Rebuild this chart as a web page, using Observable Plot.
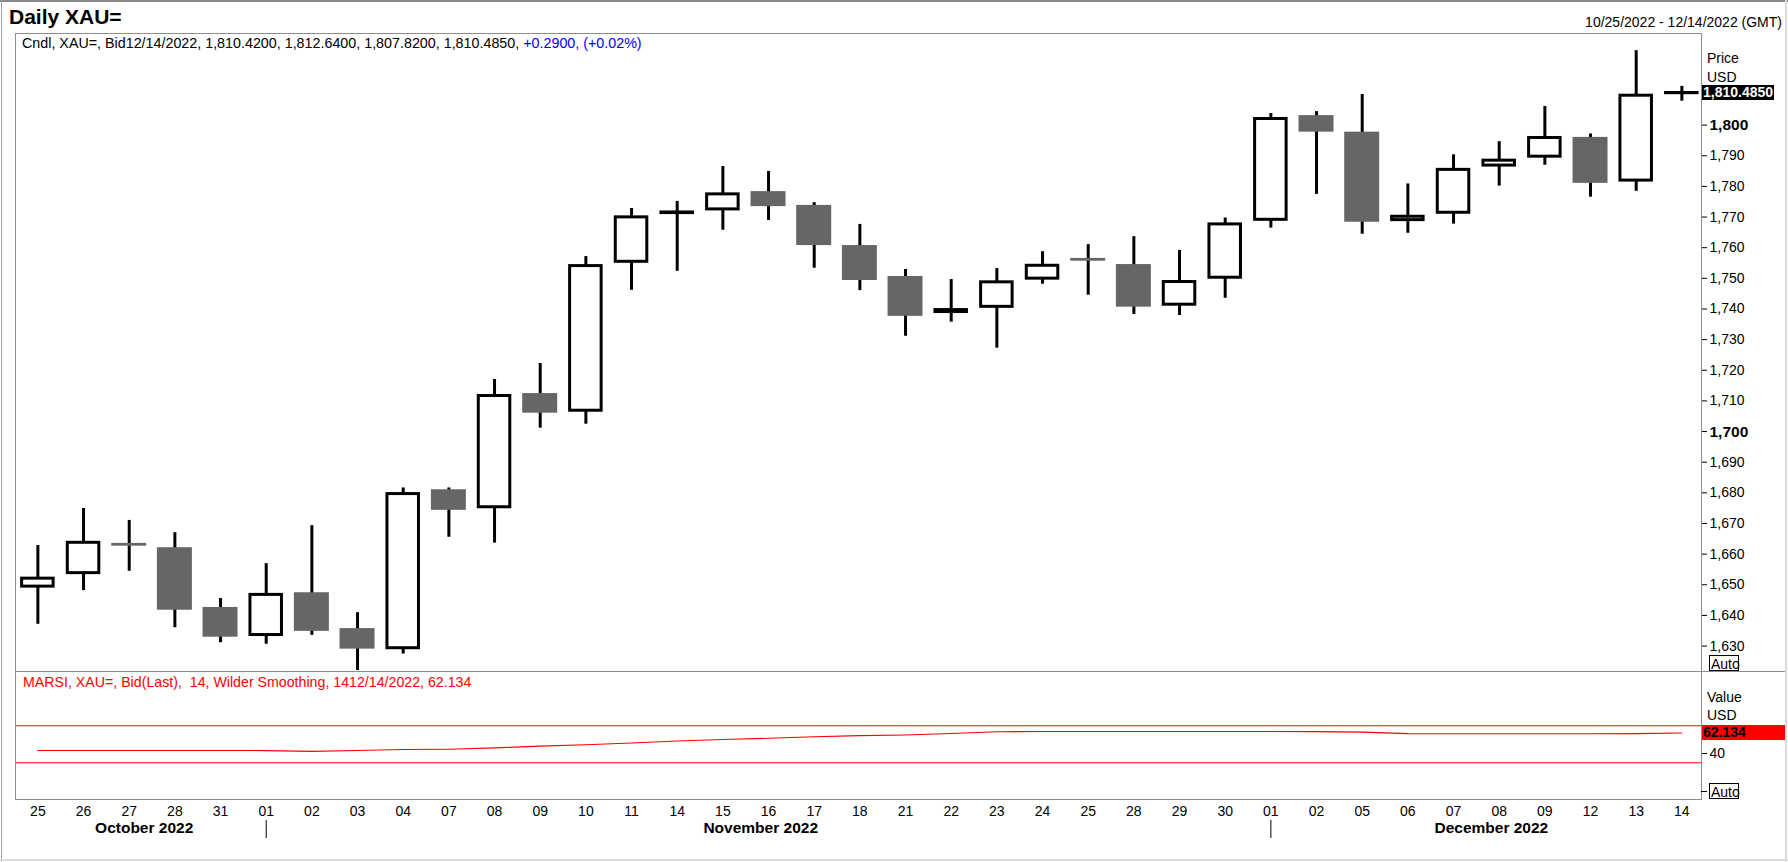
<!DOCTYPE html>
<html>
<head>
<meta charset="utf-8">
<script src="https://cdn.jsdelivr.net/npm/d3@7"></script>
<script src="https://cdn.jsdelivr.net/npm/@observablehq/plot@0.6"></script>
<style>
  html, body { margin: 0; padding: 0; background: #fff; }
  #chart { position: relative; width: 1788px; height: 862px; overflow: hidden; font-family: 'Liberation Sans', Arial, sans-serif; color: #000; }
  #chart svg { position: absolute; left: 0; }
  .t { position: absolute; white-space: pre; font-size: 14px; }
</style>
</head>
<body>
<div id="chart"></div>
<script>
// ---- data ----
const dates = ["2022-10-25","2022-10-26","2022-10-27","2022-10-28","2022-10-31",
  "2022-11-01","2022-11-02","2022-11-03","2022-11-04","2022-11-07","2022-11-08","2022-11-09","2022-11-10","2022-11-11",
  "2022-11-14","2022-11-15","2022-11-16","2022-11-17","2022-11-18","2022-11-21","2022-11-22","2022-11-23","2022-11-24",
  "2022-11-25","2022-11-28","2022-11-29","2022-11-30",
  "2022-12-01","2022-12-02","2022-12-05","2022-12-06","2022-12-07","2022-12-08","2022-12-09","2022-12-12","2022-12-13","2022-12-14"];
const opens  = [1649.4,1653.8,1663.5,1662.1,1642.6,1633.6,1647.4,1635.7,1629.3,1681.0,1675.3,1712.4,1706.8,1755.4,1771.3,1772.5,1778.3,1773.8,1760.7,1750.6,1739.0,1740.7,1749.9,1756.5,1754.5,1741.4,1750.2,1769.1,1803.1,1797.7,1769.0,1771.4,1786.8,1789.7,1796.0,1781.9,1810.42];
const highs  = [1662.8,1674.9,1671.0,1667.0,1645.5,1656.9,1669.3,1640.9,1681.6,1681.6,1717.0,1722.2,1757.1,1772.8,1775.1,1786.5,1784.9,1774.7,1767.6,1752.9,1749.6,1753.2,1758.7,1761.0,1763.6,1759.1,1769.7,1803.8,1804.4,1810.0,1780.8,1790.3,1794.6,1806.1,1797.1,1824.3,1812.64];
const lows   = [1637.1,1648.1,1654.4,1636.0,1631.1,1630.6,1633.5,1622.0,1627.4,1665.5,1663.6,1701.1,1702.4,1746.1,1752.3,1765.7,1768.9,1753.3,1746.0,1731.1,1735.7,1727.2,1748.1,1744.5,1738.2,1737.9,1743.5,1766.4,1777.4,1764.4,1764.7,1767.7,1780.1,1786.9,1776.5,1778.4,1807.82];
const closes = [1652.0,1663.7,1662.6,1641.7,1632.9,1646.7,1634.8,1629.0,1679.6,1674.3,1711.6,1706.0,1754.0,1769.9,1771.5,1777.4,1773.4,1760.7,1749.3,1737.6,1739.65,1748.7,1754.1,1755.6,1740.6,1748.8,1767.6,1802.0,1797.7,1768.3,1770.1,1785.4,1788.4,1795.8,1781.0,1809.6,1810.485];
const rsiValues = [43.3,43.3,43.3,43.3,43.3,43.2,42.3,43.2,44.3,44.7,46.1,48.0,49.5,51.4,53.6,55.2,56.5,58.2,59.4,60.1,61.6,63.6,63.8,63.8,63.8,63.8,63.8,63.8,63.7,63.1,61.5,61.4,61.4,61.4,61.4,61.5,62.134];
const priceTicks = [1630,1640,1650,1660,1670,1680,1690,1700,1710,1720,1730,1740,1750,1760,1770,1780,1790,1800];
const boldPriceTicks = [1700, 1800];
const rsiTicks = [40];
const rsiBands = [30, 70];
const lastPrice = 1810.485;
const lastRsi = 62.134;

const titleText = "Daily XAU=";
const rangeText = "10/25/2022 - 12/14/2022 (GMT)";
const legendMain = "Cndl, XAU=, Bid12/14/2022, 1,810.4200, 1,812.6400, 1,807.8200, 1,810.4850, ";
const legendChange = "+0.2900, (+0.02%)";
const rsiLegend = "MARSI, XAU=, Bid(Last),  14, Wilder Smoothing, 1412/14/2022, 62.134";

// ---- derived tables ----
const parse = d3.utcParse("%Y-%m-%d");
const candles = dates.map((d, i) => ({
  i, date: parse(d), day: d.slice(8), open: opens[i], high: highs[i], low: lows[i], close: closes[i],
  up: closes[i] >= opens[i]
}));
const rsi = rsiValues.map((v, i) => ({i, v}));
const monthGroups = d3.groups(candles, d => d3.utcFormat("%B %Y")(d.date));
const months = monthGroups.map(([name, arr]) => ({name, center: d3.mean(arr, d => d.i), start: arr[0].i}));
const monthStarts = months.slice(1);

const W = 1788;
const xDomain = [-0.49, 36.43];
const font = "'Liberation Sans', Arial, sans-serif";
const frameColor = "#8e8e8e";

const price = Plot.plot({
  width: W, height: 672,
  marginLeft: 15, marginRight: 87, marginTop: 33, marginBottom: 1,
  style: {fontFamily: font, fontSize: "14px", overflow: "visible", background: "transparent"},
  x: {domain: xDomain, axis: null},
  y: {domain: [1621.7, 1829.9], axis: null},
  marks: [
    Plot.ruleX(candles, {x: "i", y1: "low", y2: "high", stroke: "#000", strokeWidth: 3, clip: true}),
    Plot.rect(candles.filter(d => !d.up), {x1: d => d.i - 0.383, x2: d => d.i + 0.383, y1: "open", y2: "close", fill: "#666666"}),
    Plot.rect(candles.filter(d => d.up), {x1: d => d.i - 0.345, x2: d => d.i + 0.345, y1: "open", y2: "close", fill: "#fff", stroke: "#000", strokeWidth: 3}),
    Plot.axisY(priceTicks.filter(v => !boldPriceTicks.includes(v)), {anchor: "right", tickSize: 5, tickPadding: 3, tickFormat: d3.format(","), fontSize: 14, label: null}),
    Plot.axisY(boldPriceTicks, {anchor: "right", tickSize: 5, tickPadding: 3, tickFormat: d3.format(","), fontSize: 15.5, fontWeight: "bold", label: null}),
    Plot.frame({stroke: frameColor})
  ]
});
price.style.top = "0px";

const rsiPlot = Plot.plot({
  width: W, height: 191,
  marginLeft: 15, marginRight: 87, marginTop: 0, marginBottom: 63,
  style: {fontFamily: font, fontSize: "14px", overflow: "visible", background: "transparent"},
  x: {domain: xDomain, axis: null},
  y: {domain: [-9.7, 128.7], axis: null},
  marks: [
    Plot.ruleY(rsiBands, {stroke: "#ff0000", strokeWidth: 1}),
    Plot.line(rsi, {x: "i", y: "v", stroke: "#ff0000", strokeWidth: 1.1}),
    Plot.axisY(rsiTicks, {anchor: "right", tickSize: 5, tickPadding: 3, fontSize: 14, label: null}),
    Plot.text(candles, {x: "i", frameAnchor: "bottom", dy: 12, text: "day", fontSize: 14, lineAnchor: "middle"}),
    Plot.text(months, {x: "center", frameAnchor: "bottom", dy: 29, dx: 15, text: "name", fontSize: 15.5, fontWeight: "bold", lineAnchor: "middle"}),
    Plot.ruleX(monthStarts, {x: "start", insetTop: 110, dy: 39, stroke: "#000", strokeWidth: 1}),
    Plot.frame({stroke: frameColor})
  ]
});
rsiPlot.style.top = "671px";

const chart = document.getElementById("chart");
chart.appendChild(price);
chart.appendChild(rsiPlot);

function addText(txt, left, cy, opts = {}) {
  const el = document.createElement("div");
  el.className = "t";
  const fs = opts.fontSize || 14;
  el.style.fontSize = fs + "px";
  el.style.lineHeight = (opts.h || fs + 2) + "px";
  el.style.height = (opts.h || fs + 2) + "px";
  el.style.top = (cy - (opts.h || fs + 2) / 2) + "px";
  if (opts.right != null) el.style.right = opts.right + "px"; else el.style.left = left + "px";
  if (opts.bold) el.style.fontWeight = "bold";
  if (opts.color) el.style.color = opts.color;
  if (opts.bg) el.style.background = opts.bg;
  if (opts.width) el.style.width = opts.width + "px";
  if (opts.border) { el.style.border = opts.border; el.style.boxSizing = "border-box"; }
  if (opts.pad != null) el.style.paddingLeft = opts.pad + "px";
  if (opts.html) el.innerHTML = txt; else el.textContent = txt;
  chart.appendChild(el);
  return el;
}
function addLine(left, top, w, h, color) {
  const el = document.createElement("div");
  Object.assign(el.style, {position: "absolute", left: left + "px", top: top + "px", width: w + "px", height: h + "px", background: color});
  chart.appendChild(el);
}

const py = price.scale("y");
const ry = rsiPlot.scale("y");

addText(titleText, 9, 17, {fontSize: 21, bold: true, h: 24});
addText(rangeText, 0, 21.5, {right: 6});
addText(legendMain + '<span style="color:#0000ff">' + legendChange + '</span>', 22, 43, {html: true, fontSize: 14.3});
addText("Price", 1707, 58);
addText("USD", 1707, 76.5);
addText(d3.format(",.4f")(lastPrice), 1702, py.apply(lastPrice), {bold: true, color: "#fff", bg: "#000", width: 71, h: 15, pad: 1});
addText("Auto", 1709, 662.5, {border: "1px solid #000", h: 16, width: 30, pad: 1});
addText(rsiLegend, 23, 682, {color: "#ff0000", fontSize: 14.2});
addText("Value", 1707, 697);
addText("USD", 1707, 715);
addText(d3.format(".3f")(lastRsi), 1702, 671 + ry.apply(lastRsi), {bold: true, color: "#000", bg: "#ff0000", width: 83, h: 15, pad: 1});
addText("Auto", 1709, 791, {border: "1px solid #000", h: 16, width: 30, pad: 1});
addLine(1701, 790.5, 6, 1, "#000");
// separator extends through the axis area
addLine(1701, 670.5, 86, 1, frameColor);
// outer border
addLine(0, 0, W, 2, "#8a8a8a");
addLine(1, 0, 1, 862, "#a0a0a0");
addLine(1785, 0, 2, 862, "#dcdcdc");
addLine(0, 859, W, 2, "#dcdcdc");
</script>
</body>
</html>
